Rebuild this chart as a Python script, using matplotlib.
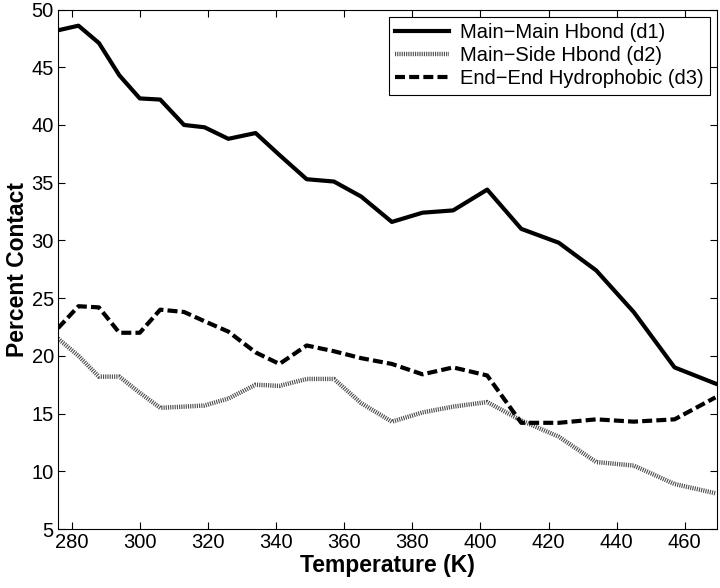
import matplotlib
matplotlib.use('Agg')
import matplotlib.pyplot as plt

plt.rcParams['font.family'] = ['Liberation Sans', 'DejaVu Sans']

# temperatures (K)
temps = [276, 282, 288, 294, 300, 306, 313, 319, 326, 334, 341, 349,
         357, 365, 374, 383, 392, 402, 412, 423, 434, 445, 457, 469]
# percent contact
d1 = [48.2, 48.6, 47.1, 44.3, 42.3, 42.2, 40.0, 39.8, 38.8, 39.3, 37.4, 35.3,
      35.1, 33.8, 31.6, 32.4, 32.6, 34.4, 31.0, 29.8, 27.4, 23.8, 19.0, 17.6]
d2 = [21.5, 20.0, 18.2, 18.2, 16.8, 15.5, 15.6, 15.7, 16.3, 17.5, 17.4, 18.0,
      18.0, 15.9, 14.3, 15.1, 15.6, 16.0, 14.4, 13.0, 10.8, 10.5, 8.9, 8.1]
d3 = [22.4, 24.3, 24.2, 22.0, 22.0, 24.0, 23.8, 23.0, 22.1, 20.3, 19.3, 20.9,
      20.4, 19.8, 19.3, 18.4, 19.0, 18.3, 14.2, 14.2, 14.5, 14.3, 14.5, 16.4]
labels = ['Main\u2212Main Hbond (d1)', 'Main\u2212Side Hbond (d2)',
          'End\u2212End Hydrophobic (d3)']

fig = plt.figure(figsize=(7.2, 5.88), dpi=100)
ax = fig.add_axes([0.0806, 0.1003, 0.9154, 0.8835])

ax.plot(temps, d1, color='black', lw=3, label=labels[0])
ax.plot(temps, d2, color='0.3', lw=3.2, dashes=(0.25, 0.25), label=labels[1])
ax.plot(temps, d3, color='black', lw=3, dashes=(2.4, 1.0), label=labels[2])

ax.set_xlim(276, 469.5)
ax.set_ylim(5, 50)
ax.set_xticks(range(280, 461, 20))
ax.set_yticks(range(5, 51, 5))
ax.tick_params(direction='in', top=True, right=True, labelsize=14.5, length=5,
               width=0.8, pad=3)
for s in ax.spines.values():
    s.set_linewidth(0.8)

ax.set_xlabel('Temperature (K)', fontsize=16.5, fontweight='bold', labelpad=1)
ax.set_ylabel('Percent Contact', fontsize=16.5, fontweight='bold', labelpad=2)

leg = ax.legend(loc='upper right', fontsize=14.5, fancybox=False,
                edgecolor='black', framealpha=1, handlelength=2.7,
                borderaxespad=0.35, labelspacing=0.22, borderpad=0.3,
                handletextpad=0.55)
leg.get_frame().set_linewidth(0.8)

fig.savefig('out.png', dpi=100)
